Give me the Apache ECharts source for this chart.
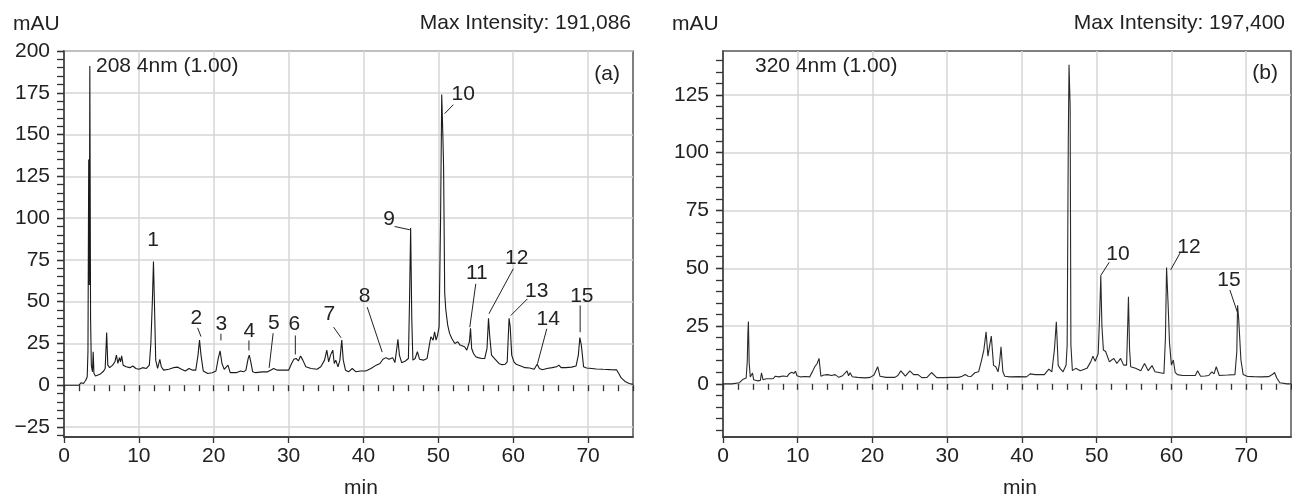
<!DOCTYPE html>
<html>
<head>
<meta charset="utf-8">
<script src="https://cdn.jsdelivr.net/npm/echarts@6/dist/echarts.min.js"></script>
<style>
html,body{margin:0;padding:0;background:#fff;}
#c{width:1292px;height:498px;}
</style>
</head>
<body>
<div id="c"></div>
<script>
// ---------- DATA ----------
// Panel (a) 208 nm chromatogram: [time (min), absorbance (mAU)]
const traceA = [
[0,0],[2.0,0],[2.3,1.5],[2.6,1],[2.9,3],[3.1,5],[3.2,20],[3.3,135],[3.38,60],[3.45,191],[3.55,40],[3.65,12],[3.8,8],[3.9,20],[4.0,7],[4.2,5.5],[4.8,6.5],[5.3,8.5],[5.5,10],[5.7,31.5],[5.85,12],[6.1,10.5],[6.5,12],[6.8,14],[7.0,18],[7.2,13],[7.4,16.5],[7.55,14],[7.7,17.5],[7.9,12],[8.3,11],[8.8,10.5],[9.2,11.5],[9.6,10],[10.0,9.5],[10.5,10.5],[11.0,10],[11.4,12],[11.6,25],[11.8,50],[11.95,74],[12.1,45],[12.25,15],[12.5,10],[12.8,15.5],[13.0,11],[13.3,9],[14.0,9.5],[14.6,10.5],[15.2,10.8],[15.7,9.5],[16.2,8.5],[16.7,10],[17.2,9],[17.6,9],[17.9,18],[18.1,27],[18.3,18],[18.6,8.5],[19.2,7],[19.8,7.5],[20.3,8.5],[20.6,16],[20.85,20.5],[21.1,13],[21.4,9.5],[21.9,12],[22.2,7.5],[23.0,7.5],[23.6,8.5],[24.0,8],[24.3,9],[24.6,16],[24.75,18],[24.95,14],[25.2,8],[25.6,7.5],[26.5,8],[27.2,8],[27.6,9],[28.0,10],[28.5,9],[29.2,9],[30.0,9],[30.4,13],[30.7,15.5],[31.0,16],[31.3,14.5],[31.6,17.5],[31.9,15],[32.3,11],[33.0,10],[33.8,9.5],[34.3,11],[34.8,15],[35.1,21],[35.35,14],[35.6,18],[35.9,21],[36.1,13],[36.3,15],[36.6,11],[36.85,15],[37.1,27],[37.3,15],[37.6,9],[38.0,8],[38.5,10],[39.0,8],[39.6,8.5],[40.3,8.5],[41.0,10],[41.7,12],[42.2,13],[42.6,15.5],[43.0,16.5],[43.4,15.5],[43.9,16.5],[44.2,13.5],[44.45,22],[44.6,27.5],[44.8,18],[45.1,13.5],[45.6,14.5],[46.0,16],[46.15,50],[46.3,94],[46.45,40],[46.6,15],[46.9,16],[47.2,20],[47.5,15.5],[48.0,15],[48.5,16],[48.8,24],[49.0,29],[49.3,27],[49.5,32],[49.7,27],[49.9,30],[50.1,35],[50.3,100],[50.45,174],[50.6,150],[50.7,131],[50.85,55],[51.0,45],[51.25,36],[51.5,31],[51.8,28],[52.2,25],[52.6,26],[52.9,24],[53.1,23],[53.5,23],[53.8,21],[54.0,20],[54.15,26],[54.3,34],[54.45,22],[54.7,19],[55.0,17],[55.3,16.5],[55.8,16],[56.2,16],[56.5,22],[56.7,40],[56.85,30],[57.1,18],[57.6,15.5],[58.1,13],[58.5,12.3],[58.9,12.5],[59.2,14],[59.35,30],[59.45,40],[59.6,35],[59.8,18],[60.1,14],[60.4,12.5],[61.0,11.5],[61.6,10.5],[62.2,10.3],[62.8,9.5],[63.2,12.5],[63.5,10],[63.9,9.3],[64.5,10],[65.2,10.5],[65.8,11],[66.1,12],[66.4,10.5],[67.0,10.5],[67.8,10.8],[68.4,11.5],[68.7,18],[68.9,28.5],[69.1,24],[69.4,11],[69.8,10.3],[70.5,10],[71.1,9.7],[72.0,9.5],[73.0,9.3],[73.8,9.2],[74.1,7],[74.4,4.5],[75.0,2],[75.5,1],[76.0,0.5]
];
// Panel (b) 320 nm chromatogram
const traceB = [
[0,0],[1.2,0],[1.4,0.5],[2.2,0.5],[2.7,2],[3.1,2.5],[3.25,10],[3.33,22],[3.4,27],[3.5,9],[3.65,3],[3.8,2.5],[3.95,4.7],[4.1,1.8],[4.6,1.3],[5.0,1.5],[5.15,4.8],[5.35,1.8],[5.8,2.2],[6.7,2.2],[7.0,3.3],[7.5,3],[8.0,3.4],[8.6,3.2],[8.9,4.5],[9.2,5],[9.5,4.5],[9.7,5.5],[9.9,3.5],[10.4,3],[11.0,3.2],[11.6,3],[12.0,5.5],[12.3,7.5],[12.6,8.8],[12.85,11],[13.1,3.3],[13.5,3.8],[14.0,4],[14.5,3.6],[15.0,4],[15.5,2.8],[16.0,3.5],[16.6,5.6],[16.8,3.5],[17.0,4.8],[17.3,3.1],[18.0,2.8],[19.0,2.6],[19.7,2.8],[20.2,3.8],[20.7,7.4],[21.0,3.3],[21.8,2.8],[23.0,2.8],[23.4,3.6],[23.8,5.6],[24.4,3.3],[25.0,5.6],[25.5,4],[26.1,4],[26.6,2.7],[27.3,2.8],[27.9,4.9],[28.6,2.7],[29.5,2.7],[30.5,2.8],[31.5,2.8],[32.0,3.3],[32.4,4],[32.8,3.3],[33.2,3.2],[33.7,4.8],[34.2,5.2],[34.6,10.3],[34.9,14.6],[35.2,22.5],[35.45,12],[35.6,15],[35.9,20.7],[36.2,8],[36.5,7.4],[36.8,5.2],[37.0,9],[37.2,16],[37.45,5.2],[37.7,3.3],[38.4,3],[39.5,3.1],[40.6,3],[41.1,4.3],[41.8,4],[43.0,4],[43.6,6.4],[44.0,5.2],[44.35,15],[44.6,26.9],[44.85,8],[45.1,6.7],[45.5,5.2],[45.9,8],[46.05,16.8],[46.2,105],[46.3,138],[46.45,120],[46.55,16.8],[46.75,5.7],[47.2,6.7],[47.8,5.7],[48.7,6.7],[49.2,9.5],[49.5,12],[49.8,9.8],[50.2,13],[50.4,30],[50.55,46.8],[50.7,25],[50.9,14.6],[51.2,14],[51.4,13.9],[51.7,9.5],[52.0,10.3],[52.3,11],[52.7,8.8],[53.2,11],[53.6,8.1],[54.0,8.1],[54.15,25],[54.25,37.7],[54.4,15],[54.55,7.4],[55.2,6.7],[55.9,5.7],[56.4,8.8],[56.9,5.7],[57.4,7.9],[57.8,5.2],[58.5,4.8],[59.0,4.5],[59.2,20],[59.35,50.3],[59.55,35],[59.75,17.5],[60.0,8.1],[60.25,10.3],[60.5,5],[60.8,4],[61.5,3.6],[62.5,3.6],[63.2,3.6],[63.5,5.7],[63.9,3.3],[64.5,3.4],[65.0,3.6],[65.4,5.2],[65.7,4.3],[66.0,7.4],[66.4,3.6],[67.5,3.8],[68.5,4],[68.75,14],[68.85,34],[69.0,28],[69.3,10.3],[69.6,4],[70.2,3.2],[71.0,3.1],[72.0,3.0],[73.0,3.1],[73.5,4],[73.8,4.9],[74.1,2.5],[74.5,0.5],[75.5,0],[76,0]
];
// Peak labels: [text, time, mAU at leader tip]
const peaksA = [['1',11.95,74],['2',18.3,29.1],['3',20.96,26.8],['4',24.7,20.8],['5',27.4,10.4],['6',30.9,18.4],['7',37.0,28.4],['8',42.5,19.8],['9',46.2,93],['10',50.84,162.5],['11',54.2,34.7],['12',56.76,42.8],['13',59.67,41.7],['14',63.24,12.8],['15',68.94,31.7]];
const peaksB = [['10',50.53,46.8],['12',59.9,49.3],['15',68.8,31.2]];
// Tick labels
const xTicks = [0,10,20,30,40,50,60,70];
const yTicksA = [-25,0,25,50,75,100,125,150,175,200];
const yTicksB = [0,25,50,75,100,125];
const xRange = [0,76];
const yRangeA = [-31,200];
const yRangeB = [-23,144];
const texts = {
  unit:'mAU', xname:'min',
  maxA:'Max Intensity: 191,086', maxB:'Max Intensity: 197,400',
  chanA:'208 4nm (1.00)', chanB:'320 4nm (1.00)', tagA:'(a)', tagB:'(b)'
};

// ---------- LAYOUT / STYLE ----------
// label offsets in px relative to the leader tip: [textDx, textDy, lineStartDx, lineStartDy]
const layoutA = [[-0.3,-21,0,0],[-4.7,-18.5,-3.4,-8.7],[0.3,-16,0,-6.7],[0.3,-19.5,0,-10],[4.8,-44.8,4,-34.6],[-1,-30,0,-19],[-11.7,-23.3,-7.4,-10.6],[-17.7,-56.2,-15,-45],[-20.8,-10.3,-15.3,-3.3],[18.5,-19.3,8.7,-9],[7,-54.2,6,-43.4],[27.7,-55.8,24.4,-45],[26,-24.5,16.7,-16.7],[10.8,-44.3,9.3,-35],[1.7,-36.2,0,-26.7]];
const layoutB = [[17.3,-21.2,8.6,-13.4],[18.3,-22.5,9.3,-16.7],[-8.3,-31.2,-7.3,-21.7]];

const FONT = 'Liberation Sans, Arial, Helvetica, sans-serif';
const FS = 21;
const TXT = '#222';
const AX = '#333';
const GRIDC = '#d6d6d6';

function range(a,b,s){const r=[];for(let v=a;v<=b+1e-9;v+=s)r.push(Math.round(v*1000)/1000);return r;}
const xMinor = range(0,76,2);
const yMinorA = range(-30,200,5);
const yMinorB = range(-20,140,5);

const gridA = {left:64, top:51, width:569, height:386};
const gridB = {left:723, top:51, width:568, height:386};

function fmt(v){ return v<0 ? '\u2212'+(-v) : String(v); }

function mainX(gi){
  return {type:'value', gridIndex:gi, min:xRange[0], max:xRange[1],
    axisLine:{show:true,onZero:false,lineStyle:{color:AX,width:1.5}},
    axisTick:{show:true,customValues:xTicks,length:6,lineStyle:{color:AX,width:1.3}},
    axisLabel:{show:true,customValues:xTicks,margin:9,fontSize:FS,color:TXT,fontFamily:FONT},
    splitLine:{show:true,lineStyle:{color:GRIDC,width:1.5}}};
}
function mainY(gi,yr,ticks){
  return {type:'value', gridIndex:gi, min:yr[0], max:yr[1],
    axisLine:{show:true,onZero:false,lineStyle:{color:AX,width:1.5}},
    axisTick:{show:true,customValues:ticks,length:7,lineStyle:{color:AX,width:1.3}},
    axisLabel:{show:true,customValues:ticks,margin:14,fontSize:FS,color:TXT,fontFamily:FONT,formatter:fmt},
    splitLine:{show:true,lineStyle:{color:GRIDC,width:1.5}}};
}
function minorX(gi){
  return {type:'value', gridIndex:gi, min:xRange[0], max:xRange[1],
    axisLine:{show:false}, axisLabel:{show:false}, splitLine:{show:false},
    axisTick:{show:true,customValues:xMinor,length:6,lineStyle:{color:AX,width:1.3}}};
}
function minorY(gi,yr,ticks){
  return {type:'value', gridIndex:gi, min:yr[0], max:yr[1],
    axisLine:{show:false}, axisLabel:{show:false}, splitLine:{show:false},
    axisTick:{show:true,customValues:ticks,length:7,lineStyle:{color:AX,width:1.3}}};
}

function labelSeries(xi, yi, peaks, layout){
  return {
    type:'custom', xAxisIndex:xi, yAxisIndex:yi, silent:true, z:10, clip:false,
    data: peaks.map((p,i)=>[p[1],p[2],i]),
    renderItem:function(params, api){
      const i = api.value(2);
      const p = api.coord([api.value(0), api.value(1)]);
      const L = layout[i];
      const ch = [];
      if (L[2]!==0 || L[3]!==0){
        ch.push({type:'line', shape:{x1:p[0]+L[2], y1:p[1]+L[3], x2:p[0], y2:p[1]},
          style:{stroke:'#222', lineWidth:1}});
      }
      ch.push({type:'text', x:p[0]+L[0], y:p[1]+L[1],
        style:{text:peaks[i][0], fill:TXT, fontSize:FS, fontFamily:FONT, align:'center', verticalAlign:'middle'}});
      return {type:'group', children:ch};
    }
  };
}

function txt(x,y,s,align){
  return {type:'text', x:x, y:y, z:20, style:{text:s, fill:TXT, fontSize:FS, fontFamily:FONT, align:align||'left', verticalAlign:'middle'}};
}

const chart = echarts.init(document.getElementById('c'), null, {renderer:'canvas'});
chart.setOption({
  animation:false,
  backgroundColor:'#fff',
  grid:[
    Object.assign({show:true,borderColor:'#555',borderWidth:1.5,backgroundColor:'transparent'}, gridA),
    Object.assign({show:true,borderColor:'#555',borderWidth:1.5,backgroundColor:'transparent'}, gridB),
    Object.assign({show:false}, gridA),
    Object.assign({show:false}, gridB)
  ],
  xAxis:[mainX(0), mainX(1), minorX(2), minorX(3)],
  yAxis:[mainY(0,yRangeA,yTicksA), mainY(1,yRangeB,yTicksB), minorY(2,yRangeA,yMinorA), minorY(3,yRangeB,yMinorB)],
  series:[
    {type:'line', xAxisIndex:0, yAxisIndex:0, data:traceA, showSymbol:false, symbol:'none',
      lineStyle:{color:'#1a1a1a', width:1.1}, z:5},
    {type:'line', xAxisIndex:1, yAxisIndex:1, data:traceB, showSymbol:false, symbol:'none',
      lineStyle:{color:'#2a2a2a', width:1.1}, z:5},
    labelSeries(0,0,peaksA,layoutA),
    labelSeries(1,1,peaksB,layoutB)
  ],
  graphic:[
    txt(13,24,texts.unit),
    txt(631,23,texts.maxA,'right'),
    txt(96,66,texts.chanA),
    txt(620,74,texts.tagA,'right'),
    txt(361,488,texts.xname,'center'),
    txt(672,24,texts.unit),
    txt(1285,23,texts.maxB,'right'),
    txt(755,66,texts.chanB),
    txt(1278,73,texts.tagB,'right'),
    txt(1020,488,texts.xname,'center')
  ]
});
</script>
</body>
</html>
